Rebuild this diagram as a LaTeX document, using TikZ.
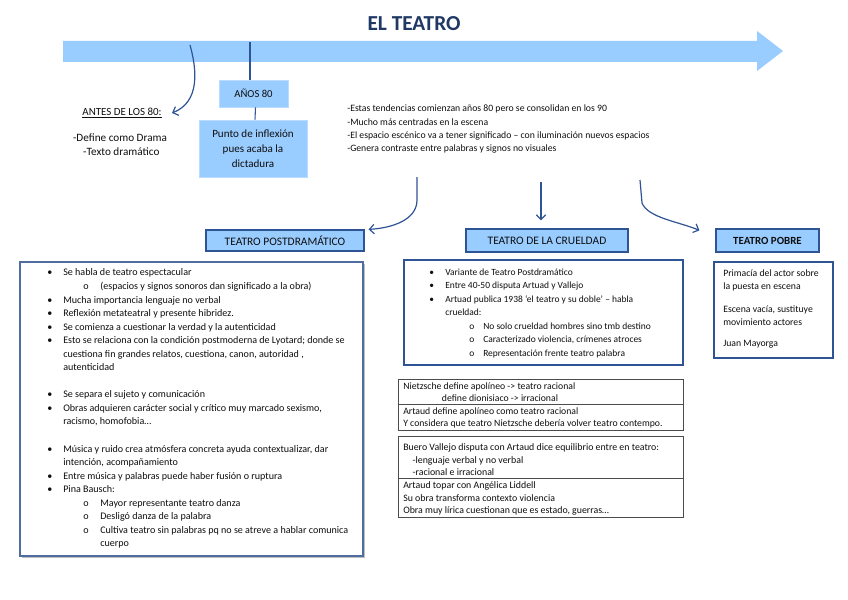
\documentclass[tikz,border=0pt]{standalone}
\usepackage{fontspec}
\setmainfont{Carlito}
\usetikzlibrary{arrows.meta}
\definecolor{lblue}{RGB}{153,204,255}
\definecolor{dblue}{RGB}{47,84,150}
\definecolor{navy}{RGB}{31,56,100}
\definecolor{bxblue}{RGB}{79,109,160}
\definecolor{txt}{RGB}{15,15,15}
\newcommand{\bul}{\makebox[12pt][l]{\textbullet}}
\newcommand{\subb}{\hspace*{27pt}\makebox[12.75pt][l]{o}}
\newcommand{\cont}{\hspace*{12pt}}
\newcommand{\subcont}{\hspace*{39.75pt}}
\begin{document}
\begin{tikzpicture}[x=0.75pt,y=-0.75pt,
  hdr/.style={draw=dblue, fill=lblue, line width=0.9pt, inner sep=0pt, font=\fontsize{8.6}{9}\selectfont, text=txt},
  soft/.style={fill=lblue, draw=lblue!70!white, line width=0.6pt, inner sep=0pt, text=txt},
  conn/.style={draw=dblue, line width=0.9pt, -{Straight Barb[length=3.5pt,width=7pt]}},
  plain/.style={draw=dblue, line width=0.8pt},
  body/.style={anchor=north west, inner sep=0pt, align=left, text=txt},
  cbox/.style={draw=bxblue, line width=1pt},
  gbox/.style={draw=black!70, line width=0.6pt}
]
\useasboundingbox (0,0) rectangle (848,599);
\fill[white] (0,0) rectangle (848,599);

% title
\node[font=\bfseries\fontsize{16}{18}\selectfont, text=navy] (title) at (414,24) {EL TEATRO};

% big timeline arrow
\fill[lblue] (63,41) -- (757,41) -- (757,31) -- (783,51) -- (757,71) -- (757,62) -- (63,62) -- cycle;
\coordinate (tA) at (190,45);
\coordinate (tB) at (250,42);

% left part
\node[font=\fontsize{8.2}{9}\selectfont, text=txt] (antes) at (122,113) {\underline{ANTES DE LOS 80:}};
\node[font=\fontsize{8.4}{10.5}\selectfont, text=txt, align=center, inner sep=0pt] (def) at (120,145) {-Define como Drama\\\hspace*{2pt}-Texto dramático};
\coordinate (aEnd) at (172,113);
\draw[conn] (tA) .. controls (197,70) and (200,102) .. (aEnd);

\node[soft, minimum width=51.75pt, minimum height=20.25pt, font=\fontsize{8}{9}\selectfont] (anos) at (253.5,93.5) {AÑOS 80};
\node[soft, minimum width=81pt, minimum height=42.75pt, align=center, font=\fontsize{8.3}{11.25}\selectfont] (punto) at (253,148.5) {Punto de inflexión\\pues acaba la\\dictadura};
\draw[plain] (tB) -- (tB |- anos.north);
\draw[plain] ([xshift=1.5pt]anos.south) -- ([xshift=1.5pt]punto.north);

% top text
\node[body, font=\fontsize{7.3}{10}\selectfont] (tend) at (347,102.2) {\strut-Estas tendencias comienzan años 80 pero se consolidan en los 90\\-Mucho más centradas en la escena\\-El espacio escénico va a tener significado – con iluminación nuevos espacios\\-Genera contraste entre palabras y signos no visuales};

% headers
\node[hdr, minimum width=118.5pt, minimum height=15.75pt] (pd) at (285,240.5) {TEATRO POSTDRAMÁTICO};
\node[hdr, minimum width=121.5pt, minimum height=17.25pt] (cr) at (547,240.5) {TEATRO DE LA CRUELDAD};
\node[hdr, minimum width=77.25pt, minimum height=17.25pt, font=\bfseries\fontsize{8.2}{9}\selectfont] (pb) at (767.5,240.5) {TEATRO POBRE};

% connectors from the text
\coordinate (c1) at (417,177);
\coordinate (c2) at (541,182);
\coordinate (c3) at (640,180);
\draw[conn] (c1) -- (417,200) .. controls (417,220) and (392,228) .. ([xshift=3pt,yshift=0pt]pd.north east);
\draw[conn] (c2) -- ([yshift=6pt]c2 |- cr.north);
\draw[conn] (c3) -- (642,203) .. controls (648,218) and (680,222) .. ([xshift=-12pt,yshift=-1.5pt]pb.north west);

% left content box
\fill[black!25] (22,264) rectangle (365,558);
\draw[cbox, fill=white] (20,262) rectangle (363,556);
\node[body, font=\fontsize{7.55}{10.16}\selectfont] (ptxt) at (47,266.2) {\strut\bul Se habla de teatro espectacular\\
\subb(espacios y signos sonoros dan significado a la obra)\\
\bul Mucha importancia lenguaje no verbal\\
\bul Reflexión metateatral y presente hibridez.\\
\bul Se comienza a cuestionar la verdad y la autenticidad\\
\bul Esto se relaciona con la condición postmoderna de Lyotard; donde se\\
\cont cuestiona fin grandes relatos, cuestiona, canon, autoridad ,\\
\cont autenticidad\\
\mbox{}\\
\bul Se separa el sujeto y comunicación\\
\bul Obras adquieren carácter social y crítico muy marcado sexismo,\\
\cont racismo, homofobia…\\
\mbox{}\\
\bul Música y ruido crea atmósfera concreta ayuda contextualizar, dar\\
\cont intención, acompañamiento\\
\bul Entre música y palabras puede haber fusión o ruptura\\
\bul Pina Bausch:\\
\subb Mayor representante teatro danza\\
\subb Desligó danza de la palabra\\
\subb Cultiva teatro sin palabras pq no se atreve a hablar comunica\\
\subcont cuerpo};

% middle content box
\draw[cbox, draw=dblue] (404,260) rectangle (683,365);
\node[body, font=\fontsize{7.1}{10.1}\selectfont] (ctxt) at (429,265.7) {\strut\bul Variante de Teatro Postdramático\\
\bul Entre 40-50 disputa Artuad y Vallejo\\
\bul Artuad publica 1938 ‘el teatro y su doble’ – habla\\
\cont crueldad:\\
\hspace*{30pt}\makebox[10.5pt][l]{o}No solo crueldad hombres sino tmb destino\\
\hspace*{30pt}\makebox[10.5pt][l]{o}Caracterizado violencia, crímenes atroces\\
\hspace*{30pt}\makebox[10.5pt][l]{o}Representación frente teatro palabra};

% Nietzsche box
\draw[gbox] (398,379) rectangle (683,430);
\draw[gbox] (398,404) -- (683,404);
\node[body, font=\fontsize{7.3}{9.2}\selectfont] (n1) at (403,380.6) {\strut Nietzsche define apolíneo -> teatro racional\\\hspace*{29pt}define dionisiaco -> irracional};
\node[body, font=\fontsize{7.3}{9.2}\selectfont] (n2) at (403,405.6) {\strut Artaud define apolíneo como teatro racional\\Y considera que teatro Nietzsche debería volver teatro contempo.};

% Buero box
\draw[gbox] (398,436) rectangle (683,517);
\draw[gbox] (398,478) -- (683,478);
\node[body, font=\fontsize{7.4}{9.4}\selectfont] (b1) at (403,441.5) {\strut Buero Vallejo disputa con Artaud dice equilibrio entre en teatro:\\\hspace*{7pt}-lenguaje verbal y no verbal\\\hspace*{7pt}-racional e irracional};
\node[body, font=\fontsize{7.4}{9.4}\selectfont] (b2) at (403,479.5) {\strut Artaud topar con Angélica Liddell\\Su obra transforma contexto violencia\\Obra muy lírica cuestionan que es estado, guerras…};

% Teatro pobre box
\draw[cbox, draw=dblue] (714,262) rectangle (833,358);
\node[body, font=\fontsize{7.3}{9.75}\selectfont] (ptx) at (723,267.4) {\strut Primacía del actor sobre\\la puesta en escena\\[7.5pt]Escena vacía, sustituye\\movimiento actores\\[6pt]Juan Mayorga};
\end{tikzpicture}
\end{document}
